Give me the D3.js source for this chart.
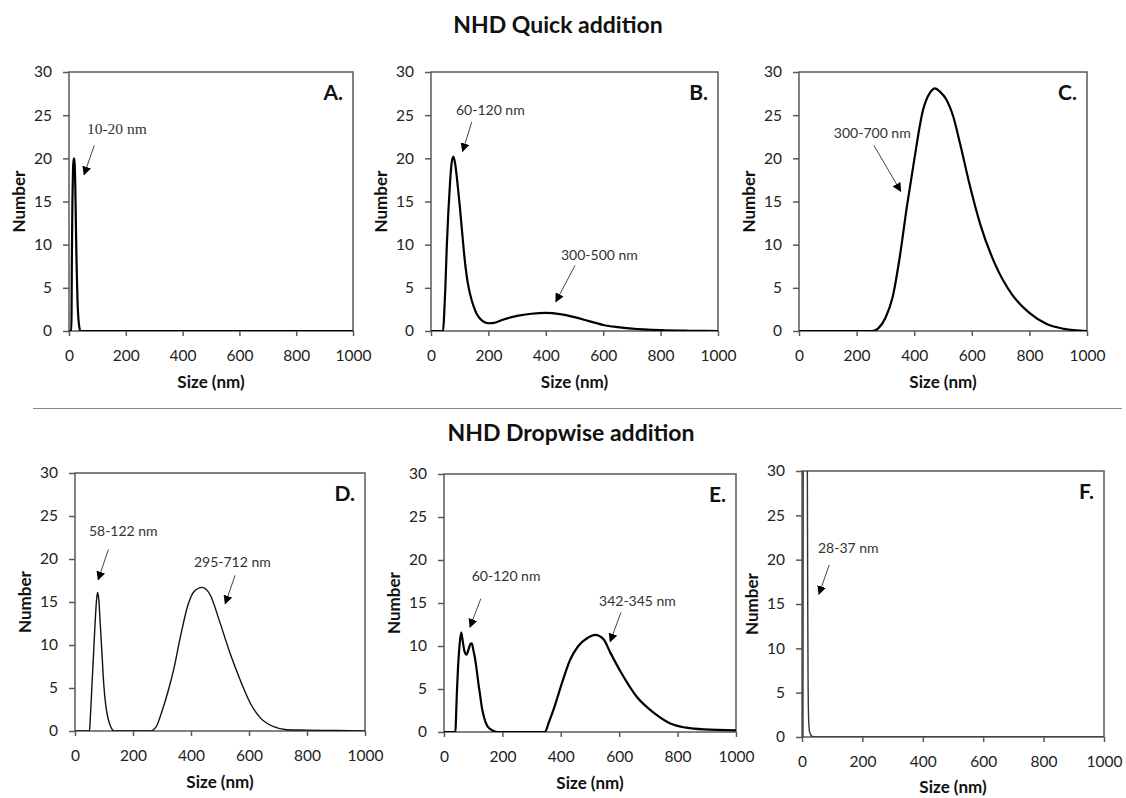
<!DOCTYPE html>
<html>
<head>
<meta charset="utf-8">
<script src="https://cdn.jsdelivr.net/npm/d3@7"></script>
<style>
  body { margin: 0; background: #fff; }
  svg text { font-family: "Lato", "Open Sans", sans-serif; }
</style>
</head>
<body>
<div id="chart"></div>
<script>
// size distributions (size in nm, number %)
const sizeA = [0, 8, 9, 10, 12, 14, 16, 18, 20, 22, 24, 26, 28, 30, 33, 36, 40, 1000];
const numA = [0, 0, 2, 8, 15, 18.5, 19.7, 20, 19.3, 17, 13, 9, 6, 3.5, 1.5, 0.5, 0, 0];

const sizeB = [0, 42, 46, 50, 55, 60, 66, 72, 78, 84, 90, 95, 101, 107, 113, 120, 128, 136, 148, 159, 172, 185, 200, 220, 250, 300, 350, 400, 450, 500, 550, 600, 650, 700, 800, 900, 1000];
const numB = [0, 0, 2, 5, 9.8, 13.5, 17, 19.5, 20.2, 19.4, 17.8, 16.2, 14.2, 12.0, 9.8, 7.5, 5.6, 4.3, 2.9, 2.0, 1.4, 1.05, 0.9, 0.95, 1.3, 1.75, 2.0, 2.1, 1.95, 1.6, 1.15, 0.7, 0.45, 0.28, 0.1, 0.03, 0];

const sizeC = [0, 255, 275, 300, 325, 350, 375, 400, 430, 455, 472, 490, 510, 535, 560, 590, 630, 680, 740, 800, 860, 920, 1000];
const numC = [0, 0, 0.3, 1.5, 3.9, 8.6, 14.5, 19.8, 25.5, 27.6, 28.1, 27.7, 26.9, 24.9, 21.6, 17.3, 12.3, 7.8, 4.2, 2.1, 0.8, 0.25, 0];

const sizeD = [0, 50, 52, 58, 64, 70, 75, 78, 82, 87, 93, 99, 106, 116, 126, 135, 260, 280, 300, 320, 340, 365, 390, 410, 438, 465, 500, 535, 570, 605, 640, 685, 730, 800, 900, 1000];
const numD = [0, 0, 1, 5, 9, 13, 15.5, 16.1, 15.3, 12.5, 9, 5.5, 3, 1.2, 0.3, 0, 0, 0.5, 2.3, 4.5, 7.1, 11.2, 14.7, 16.2, 16.7, 15.9, 12.6, 9, 5.9, 3.2, 1.5, 0.5, 0.15, 0.1, 0.05, 0];

const sizeE = [0, 39, 41, 44, 48, 53, 59, 64, 70, 77, 84, 90, 95, 100, 106, 112, 118, 124, 130, 138, 146, 156, 168, 185, 345, 360, 375, 405, 432, 460, 490, 518, 546, 570, 605, 660, 720, 775, 830, 890, 1000];
const numE = [0, 0, 1.5, 4.5, 7.5, 10, 11.6, 10.6, 9.4, 9.0, 9.6, 10.2, 10.3, 9.6, 8.6, 7.2, 5.6, 4.2, 2.8, 1.6, 0.85, 0.4, 0.15, 0, 0, 1.2, 2.6, 5.8, 8.4, 10, 10.9, 11.3, 10.8, 9.2, 7, 4.1, 2.2, 1, 0.5, 0.3, 0.2];

const sizeF = [0, 3, 4, 6, 9, 12, 15, 17.7, 19, 20, 22, 25, 30, 40, 1000];
const numF = [0, 0, 30, 60, 75, 70, 50, 30, 15, 7, 2, 0.6, 0.2, 0, 0];

const xTicks = [0, 200, 400, 600, 800, 1000];
const yTicks = [0, 5, 10, 15, 20, 25, 30];

const groupTitles = ["NHD Quick addition", "NHD Dropwise addition"];
const panelLetters = ["A.", "B.", "C.", "D.", "E.", "F."];

// annotations: text position and arrow start/end in data units
const notesA = [{ text: "10-20 nm", tx: 63, ty: 22.8, x1: 89, y1: 21.5, x2: 53, y2: 18.1 }];
const notesB = [
  { text: "60-120 nm", tx: 87, ty: 25.0, x1: 142, y1: 24.2, x2: 110, y2: 20.8 },
  { text: "300-500 nm", tx: 453, ty: 8.2, x1: 502, y1: 7.6, x2: 435, y2: 3.4 },
];
const notesC = [{ text: "300-700 nm", tx: 121, ty: 22.4, x1: 260, y1: 21.5, x2: 353, y2: 16.2 }];
const notesD = [
  { text: "58-122 nm", tx: 48, ty: 22.7, x1: 115, y1: 21.1, x2: 80, y2: 17.6 },
  { text: "295-712 nm", tx: 410, ty: 19.1, x1: 552, y1: 18.1, x2: 518, y2: 14.8 },
];
const notesE = [
  { text: "60-120 nm", tx: 95, ty: 17.6, x1: 126, y1: 15.5, x2: 89, y2: 12.2 },
  { text: "342-345 nm", tx: 531, ty: 14.6, x1: 606, y1: 13.9, x2: 569, y2: 10.5 },
];
const notesF = [{ text: "28-37 nm", tx: 53, ty: 20.7, x1: 90, y1: 19.4, x2: 56, y2: 16.1 }];

// layout of the six panels
const panels = [
  { sizes: sizeA, nums: numA, notes: notesA, left: 69, top: 72, width: 284, height: 259, stroke: "#000", sw: 2.2, serif: true },
  { sizes: sizeB, nums: numB, notes: notesB, left: 431, top: 72, width: 287, height: 259, stroke: "#000", sw: 2.2 },
  { sizes: sizeC, nums: numC, notes: notesC, left: 799, top: 72, width: 288, height: 259, stroke: "#000", sw: 2.2 },
  { sizes: sizeD, nums: numD, notes: notesD, left: 75, top: 473, width: 290, height: 258, stroke: "#111", sw: 1.4 },
  { sizes: sizeE, nums: numE, notes: notesE, left: 444, top: 474, width: 292, height: 258, stroke: "#000", sw: 2.2 },
  { sizes: sizeF, nums: numF, notes: notesF, left: 802, top: 471, width: 302, height: 266, stroke: "#333", sw: 1.4 },
];

const svg = d3
  .select("#chart")
  .append("svg")
  .attr("width", 1126)
  .attr("height", 798);

svg
  .append("defs")
  .append("marker")
  .attr("id", "head")
  .attr("viewBox", "0 0 10 10")
  .attr("refX", 9)
  .attr("refY", 5)
  .attr("markerWidth", 9)
  .attr("markerHeight", 9)
  .attr("markerUnits", "userSpaceOnUse")
  .attr("orient", "auto")
  .append("path")
  .attr("d", "M0,0L10,5L0,10z")
  .attr("fill", "#000");

// group titles and separator
svg.append("text")
  .attr("x", 558).attr("y", 33)
  .attr("text-anchor", "middle")
  .attr("font-size", 23).attr("font-weight", "bold")
  .attr("fill", "#111")
  .text(groupTitles[0]);

svg.append("line")
  .attr("x1", 33).attr("x2", 1122)
  .attr("y1", 408.5).attr("y2", 408.5)
  .attr("stroke", "#888").attr("stroke-width", 1.2);

svg.append("text")
  .attr("x", 571).attr("y", 441)
  .attr("text-anchor", "middle")
  .attr("font-size", 23).attr("font-weight", "bold")
  .attr("fill", "#111")
  .text(groupTitles[1]);

panels.forEach((p, i) => {
  const g = svg.append("g").attr("transform", `translate(${p.left},${p.top})`);

  const x = d3.scaleLinear().domain([0, 1000]).range([0, p.width]);
  const y = d3.scaleLinear().domain([0, 30]).range([p.height, 0]);

  g.append("clipPath")
    .attr("id", "clip" + i)
    .append("rect")
    .attr("width", p.width)
    .attr("height", p.height);

  // X axis
  const xAxis = g
    .append("g")
    .attr("transform", `translate(0,${p.height})`)
    .call(
      d3.axisBottom(x).tickValues(xTicks).tickFormat(d3.format("d"))
        .tickSize(5).tickSizeOuter(0).tickPadding(14)
    );
  // Y axis
  const yAxis = g
    .append("g")
    .call(d3.axisLeft(y).tickValues(yTicks).tickSize(6).tickSizeOuter(0).tickPadding(11));

  [xAxis, yAxis].forEach((ax) => {
    ax.select(".domain").remove();
    ax.selectAll(".tick line").attr("stroke", "#595959").attr("stroke-width", 1.5);
    ax.selectAll(".tick text")
      .attr("fill", "#222")
      .style("font-size", "15.5px")
      .style("font-family", "Lato, 'Open Sans', sans-serif");
  });

  // plot frame
  g.append("rect")
    .attr("width", p.width)
    .attr("height", p.height)
    .attr("fill", "none")
    .attr("stroke", "#595959")
    .attr("stroke-width", 1.5);

  // the curve
  const pts = p.sizes.map((s, k) => ({ size: s, num: p.nums[k] }));
  g.append("path")
    .datum(pts)
    .attr("clip-path", `url(#clip${i})`)
    .attr("fill", "none")
    .attr("stroke", p.stroke)
    .attr("stroke-width", p.sw)
    .attr("stroke-linejoin", "round")
    .attr(
      "d",
      d3
        .line()
        .curve(d3.curveMonotoneX)
        .x((d) => x(d.size))
        .y((d) => y(d.num))
    );

  // axis titles
  g.append("text")
    .attr("x", p.width / 2)
    .attr("y", Math.min(p.height + 57, 793 - p.top))
    .attr("text-anchor", "middle")
    .attr("font-size", 17).attr("font-weight", "bold")
    .attr("fill", "#111")
    .text("Size (nm)");

  g.append("text")
    .attr("transform", `translate(-50,${p.height / 2}) rotate(-90)`)
    .attr("dy", "0.35em")
    .attr("text-anchor", "middle")
    .attr("font-size", 17).attr("font-weight", "bold")
    .attr("fill", "#111")
    .text("Number");

  // panel letter
  g.append("text")
    .attr("x", p.width - 10)
    .attr("y", 28)
    .attr("text-anchor", "end")
    .attr("font-size", 21).attr("font-weight", "bold")
    .attr("fill", "#111")
    .text(panelLetters[i]);

  // annotations
  p.notes.forEach((n) => {
    g.append("text")
      .attr("x", x(n.tx))
      .attr("y", y(n.ty))
      .attr("font-size", p.serif ? 15.5 : 14)
      .style("font-family", p.serif ? "'Liberation Serif', 'DejaVu Serif', serif" : null)
      .attr("fill", "#333")
      .text(n.text);
    g.append("line")
      .attr("x1", x(n.x1)).attr("y1", y(n.y1))
      .attr("x2", x(n.x2)).attr("y2", y(n.y2))
      .attr("stroke", "#444")
      .attr("stroke-width", 1)
      .attr("marker-end", "url(#head)");
  });
});
</script>
</body>
</html>
